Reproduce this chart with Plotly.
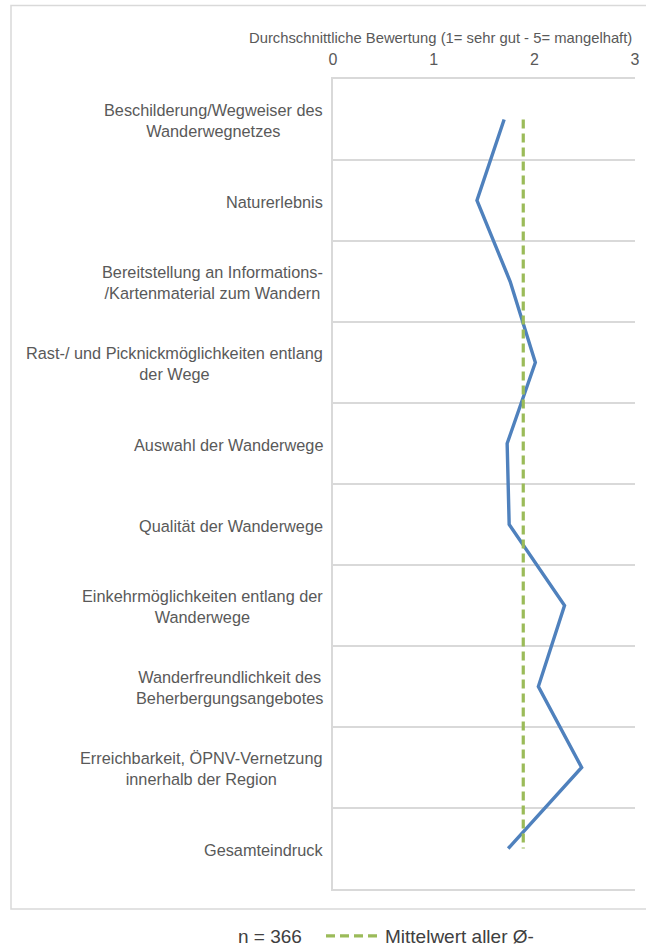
import plotly.graph_objects as go

categories = [
    "Beschilderung/Wegweiser des<br>Wanderwegnetzes",
    "Naturerlebnis",
    "Bereitstellung an Informations-<br>/Kartenmaterial zum Wandern",
    "Rast-/ und Picknickmöglichkeiten entlang<br>der Wege",
    "Auswahl der Wanderwege",
    "Qualität der Wanderwege",
    "Einkehrmöglichkeiten entlang der<br>Wanderwege",
    "Wanderfreundlichkeit des<br>Beherbergungsangebotes",
    "Erreichbarkeit, ÖPNV-Vernetzung<br>innerhalb der Region",
    "Gesamteindruck",
]
ratings = [1.70, 1.43, 1.76, 2.01, 1.73, 1.75, 2.30, 2.04, 2.47, 1.74]
mean_value = 1.89
mean_series = [mean_value] * len(categories)
x_ticks = [0, 1, 2, 3]
x_title = "Durchschnittliche Bewertung (1= sehr gut - 5= mangelhaft)"
n_text = "n = 366"
mean_name = "Mittelwert aller Ø-"

FONT = "Liberation Sans, Arial, sans-serif"
GREY = "#595959"
GRID = "#d9d9d9"
LABEL_SIZE = 16.3

fig = go.Figure()
fig.add_trace(go.Scatter(
    x=ratings, y=categories, mode="lines",
    line=dict(color="#4F81BD", width=3.4),
    showlegend=False,
))
fig.add_trace(go.Scatter(
    x=mean_series, y=categories, mode="lines",
    line=dict(color="#9BBB59", width=3.2, dash="9px,5px"),
    name=mean_name, showlegend=True,
))

W, H = 646, 946
L, R, T, B = 333, 11, 79, 57
pw, ph = W - L - R, H - T - B

def px(xp):
    return (xp - L) / pw

def py(yp):
    return (H - B - yp) / ph

annotations = []
label_font = dict(family=FONT, size=LABEL_SIZE, color=GREY)
for c in categories:
    annotations.append(dict(
        x=px(325), xref="paper", y=c, yref="y", text=c, showarrow=False,
        xanchor="right", yanchor="middle", align="center", font=label_font,
        yshift=-1,
    ))
annotations.append(dict(
    x=px(440), xref="paper", y=py(38), yref="paper",
    text=x_title, showarrow=False, xanchor="center", yanchor="middle",
    font=dict(family=FONT, size=14.8, color=GREY),
))
annotations.append(dict(
    x=px(270), xref="paper", y=py(936), yref="paper",
    text=n_text, showarrow=False, xanchor="center", yanchor="middle",
    font=dict(family=FONT, size=19, color="#404040"),
))

fig.update_layout(
    width=W, height=H,
    margin=dict(l=L, r=R, t=T, b=B, autoexpand=False),
    paper_bgcolor="white", plot_bgcolor="white",
    font=dict(family=FONT, color=GREY),
    annotations=annotations,
    showlegend=True,
    legend=dict(
        orientation="h", x=px(321), xanchor="left", y=py(936), yanchor="middle",
        font=dict(family=FONT, size=19, color="#404040"),
        bgcolor="rgba(0,0,0,0)", itemwidth=54,
    ),
    shapes=[dict(
        type="rect", xref="paper", yref="paper",
        x0=px(11), x1=px(700), y0=py(909), y1=py(5.5),
        line=dict(color=GRID, width=1.5), fillcolor="rgba(0,0,0,0)", layer="below",
    )],
)
fig.update_xaxes(
    side="top", range=[0, 3], tickvals=x_ticks, ticktext=[str(t) for t in x_ticks],
    showgrid=False, zeroline=False, showline=True, mirror=True,
    linecolor=GRID, linewidth=1.5, ticks="", automargin=False,
    tickfont=dict(family=FONT, size=16, color=GREY), ticklabelstandoff=6,
)
fig.update_yaxes(
    type="category", categoryorder="array", categoryarray=categories,
    range=[len(categories) - 0.5, -0.5], tickson="boundaries",
    showgrid=True, gridcolor=GRID, gridwidth=1.5,
    showline=True, linecolor=GRID, linewidth=1.5, automargin=False,
    showticklabels=False, ticks="", zeroline=False,
)

fig.write_html(
    "out.html",
    config={"displayModeBar": False},
    post_script="document.body.style.margin='0';document.body.style.overflow='hidden';",
)
